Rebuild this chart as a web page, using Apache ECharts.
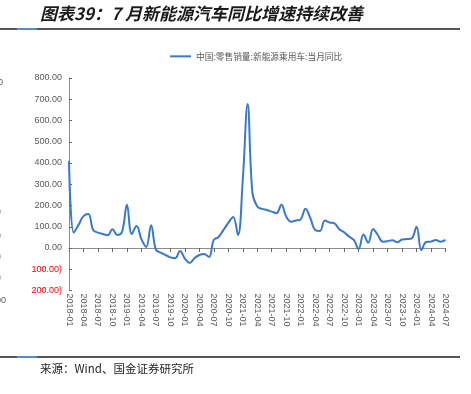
<!DOCTYPE html>
<html><head><meta charset="utf-8">
<script src="https://cdn.jsdelivr.net/npm/echarts@6/dist/echarts.min.js"></script>
<style>html,body{margin:0;padding:0;background:#fff}#c{width:471px;height:394px}</style>
</head><body><div id="c"></div>
<script>
const categories = [
 '2018-01','2018-02','2018-03','2018-04','2018-05','2018-06','2018-07','2018-08','2018-09','2018-10','2018-11','2018-12',
 '2019-01','2019-02','2019-03','2019-04','2019-05','2019-06','2019-07','2019-08','2019-09','2019-10','2019-11','2019-12',
 '2020-01','2020-02','2020-03','2020-04','2020-05','2020-06','2020-07','2020-08','2020-09','2020-10','2020-11','2020-12',
 '2021-01','2021-02','2021-03','2021-04','2021-05','2021-06','2021-07','2021-08','2021-09','2021-10','2021-11','2021-12',
 '2022-01','2022-02','2022-03','2022-04','2022-05','2022-06','2022-07','2022-08','2022-09','2022-10','2022-11','2022-12',
 '2023-01','2023-02','2023-03','2023-04','2023-05','2023-06','2023-07','2023-08','2023-09','2023-10','2023-11','2023-12',
 '2024-01','2024-02','2024-03','2024-04','2024-05','2024-06','2024-07'
];
const yoyValues = [
 410, 72, 110, 150, 160, 85, 72, 66, 60, 88, 61, 77,
 203, 66, 104, 42, 5, 107, -8, -22, -33, -44, -48, -14,
 -50, -70, -48, -33, -28, -42, 38, 52, 85, 118, 146, 61,
 321, 678, 259, 195, 184, 179, 171, 164, 203, 148, 124, 129,
 135, 185, 140, 85, 80, 130, 120, 116, 88, 74, 54, 38,
 -5, 63, 25, 90, 60, 30, 32, 37, 27, 40, 42, 45,
 100, -10, 28, 30, 38, 30, 38
];
const seriesName = '中国:零售销量:新能源乘用车:当月同比';
const titleText = '图表39：7 月新能源汽车同比增速持续改善';
const sourceText = '来源：Wind、国金证券研究所';
const yMin = -200, yMax = 800, yStep = 100;
const strayLabels = [['0', 83], [')', 212], [')', 236], [')', 257], [')', 278], ['00', 301]];

const chart = echarts.init(document.getElementById('c'), null, {renderer: 'canvas'});
const grey = '#595959';
const lineBlue = '#3a78c9';
const graphics = [
  {type:'text', left: 40, top: 5, style:{text: titleText, fontSize: 17, fontStyle:'italic', fontWeight:'bold', fill:'#1a1a1a', fontFamily:'"Noto Sans CJK SC", sans-serif'}},
  {type:'rect', shape:{x:0, y:28, width:460, height:2}, style:{fill:'#555'}},
  {type:'rect', shape:{x:17, y:28, width:20, height:2}, style:{fill:'#5b8db8'}},
  {type:'rect', shape:{x:0, y:356, width:460, height:2}, style:{fill:'#555'}},
  {type:'rect', shape:{x:17, y:356, width:20, height:2}, style:{fill:'#5b8db8'}},
  {type:'text', left: 40, top: 363, style:{text: sourceText, fontSize: 11.5, fill:'#222', fontFamily:'"Noto Sans CJK SC", monospace'}}
];
strayLabels.forEach(([t, y]) => {
  graphics.push({type:'text', x: t.length > 1 ? -4 : -2, y: y - 5, style:{text: t, fontSize: 9, fill: grey, fontFamily:'"Liberation Sans", sans-serif'}});
});

chart.setOption({
  animation: false,
  textStyle: {fontFamily: '"Liberation Sans", Arial, sans-serif'},
  legend: {
    left: 165, top: 47, itemWidth: 21, itemHeight: 2, itemGap: 5,
    icon: 'rect',
    itemStyle: {color: lineBlue},
    textStyle: {fontSize: 8.7, color: grey, fontFamily: '"Noto Sans CJK SC", sans-serif'},
    data: [seriesName]
  },
  grid: {left: 69, right: 25.5, top: 78, bottom: 103.5, containLabel: false},
  xAxis: [
    {
      type: 'category', data: categories, boundaryGap: false,
      axisLine: {onZero: true, lineStyle: {color: '#8c8c8c', width: 1}},
      axisTick: {show: true, interval: 2, length: 4, lineStyle: {color: '#666'}},
      axisLabel: {show: false}, splitLine: {show: false}
    },
    {
      type: 'category', data: categories, boundaryGap: false, position: 'bottom',
      axisLine: {show: false, onZero: false}, axisTick: {show: false},
      axisLabel: {interval: 2, rotate: -90, margin: 3, fontSize: 9, color: grey}
    }
  ],
  yAxis: {
    type: 'value', min: yMin, max: yMax, interval: yStep,
    axisLine: {show: true, lineStyle: {color: '#8c8c8c'}},
    axisTick: {show: true, inside: true, length: 3, lineStyle: {color: '#666'}},
    splitLine: {show: false},
    axisLabel: {
      margin: 7, fontSize: 9,
      formatter: v => v < 0 ? Math.abs(v).toFixed(2) + ')' : v.toFixed(2),
      color: v => (Number(v) < 0 ? '#ff0000' : grey)
    }
  },
  series: [{
    name: seriesName, type: 'line', data: yoyValues, xAxisIndex: 0,
    smooth: 0.4, symbol: 'none', showSymbol: false,
    lineStyle: {color: lineBlue, width: 2},
    itemStyle: {color: lineBlue}
  }],
  graphic: graphics
});
</script></body></html>
